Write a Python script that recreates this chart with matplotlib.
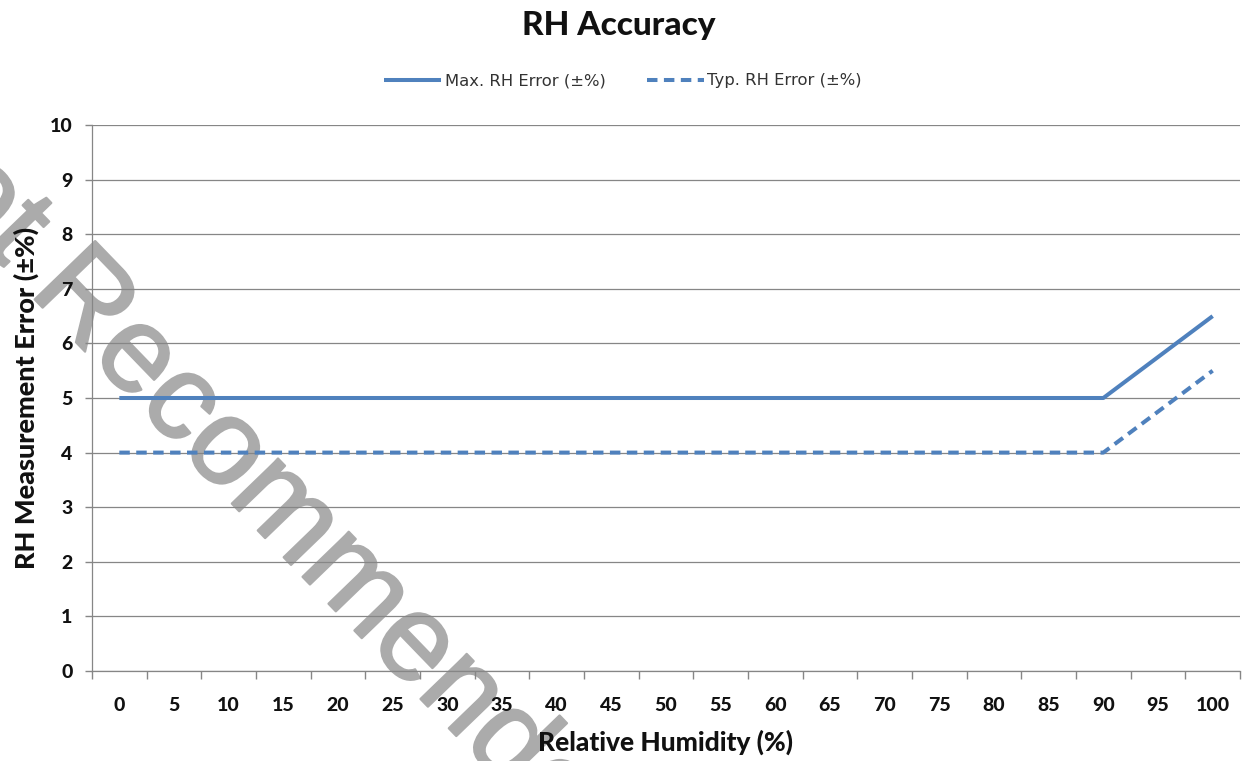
import matplotlib
matplotlib.use("Agg")
import matplotlib.pyplot as plt
import matplotlib.patheffects as pe
import numpy as np

categories = [0, 5, 10, 15, 20, 25, 30, 35, 40, 45, 50, 55, 60, 65, 70, 75, 80, 85, 90, 95, 100]
max_err = [5, 5, 5, 5, 5, 5, 5, 5, 5, 5, 5, 5, 5, 5, 5, 5, 5, 5, 5, 5.75, 6.5]
typ_err = [4, 4, 4, 4, 4, 4, 4, 4, 4, 4, 4, 4, 4, 4, 4, 4, 4, 4, 4, 4.75, 5.5]
y_ticks = list(range(0, 11))

W, H = 1244, 761
BLUE = "#4F81BD"
GRID = "#868686"
FONT = "Lato"
WEIGHT = 900

fig = plt.figure(figsize=(W / 100, H / 100), dpi=100)
ax = fig.add_axes([92 / W, 1 - 671 / H, (1240 - 92) / W, (671 - 125) / H])
ax.set_facecolor("none")

x = np.arange(len(categories))
ax.plot(x, max_err, color=BLUE, lw=2.9, solid_capstyle="butt",
        label="Max. RH Error (±%)", zorder=3)
ax.plot(x, typ_err, color=BLUE, lw=2.9, dashes=(2.6, 1.6),
        label="Typ. RH Error (±%)", zorder=3)

ax.set_xlim(-0.5, len(categories) - 0.5)
ax.set_ylim(0, 10)
ax.set_yticks(y_ticks)
ax.set_xticks(x)
ax.set_xticklabels([str(c) for c in categories])
ax.set_xticks(np.arange(-0.5, len(categories), 1.0), minor=True)
ax.tick_params(axis="x", which="major", length=0, pad=19)
ax.tick_params(axis="x", which="minor", length=6, width=1, color=GRID, direction="out")
ax.tick_params(axis="y", length=5, width=1, color=GRID, pad=9)
for lab in ax.get_xticklabels() + ax.get_yticklabels():
    lab.set_fontfamily(FONT)
    lab.set_fontweight(WEIGHT)
    lab.set_fontsize(14)
    lab.set_color("#111111")

ax.grid(axis="y", color=GRID, lw=0.9, zorder=1)
for s in ["top", "right"]:
    ax.spines[s].set_visible(False)
for s in ["left", "bottom"]:
    ax.spines[s].set_color(GRID)
    ax.spines[s].set_linewidth(0.9)

ax.set_xlabel("Relative Humidity (%)", fontfamily=FONT, fontweight=WEIGHT,
              fontsize=19, color="#111111", labelpad=11)
ax.set_ylabel("RH Measurement Error (±%)", fontfamily=FONT, fontweight=WEIGHT,
              fontsize=19.5, color="#111111", labelpad=8)

fig.text(619 / W, 1 - 25 / H, "RH Accuracy", ha="center", va="center",
         fontfamily=FONT, fontweight=WEIGHT, fontsize=24, color="#111111")

leg = fig.legend(loc="center", bbox_to_anchor=(623 / W, 1 - 81 / H), ncol=2,
                 frameon=False, prop={"family": "DejaVu Sans", "size": 11.8},
                 handlelength=3.5, handletextpad=0.2, columnspacing=2.5)
for t in leg.get_texts():
    t.set_color("#333333")

# watermark (drawn beneath the transparent axes)
fig.text(-128 / W, 1 - 131 / H, "Not Recommended", rotation=-46,
         rotation_mode="anchor", ha="left", va="baseline",
         fontfamily="Liberation Sans", fontsize=88, color="#ababab",
         zorder=-1,
         path_effects=[pe.withStroke(linewidth=1.6, foreground="#ababab")])

fig.savefig("out.png", dpi=100)
